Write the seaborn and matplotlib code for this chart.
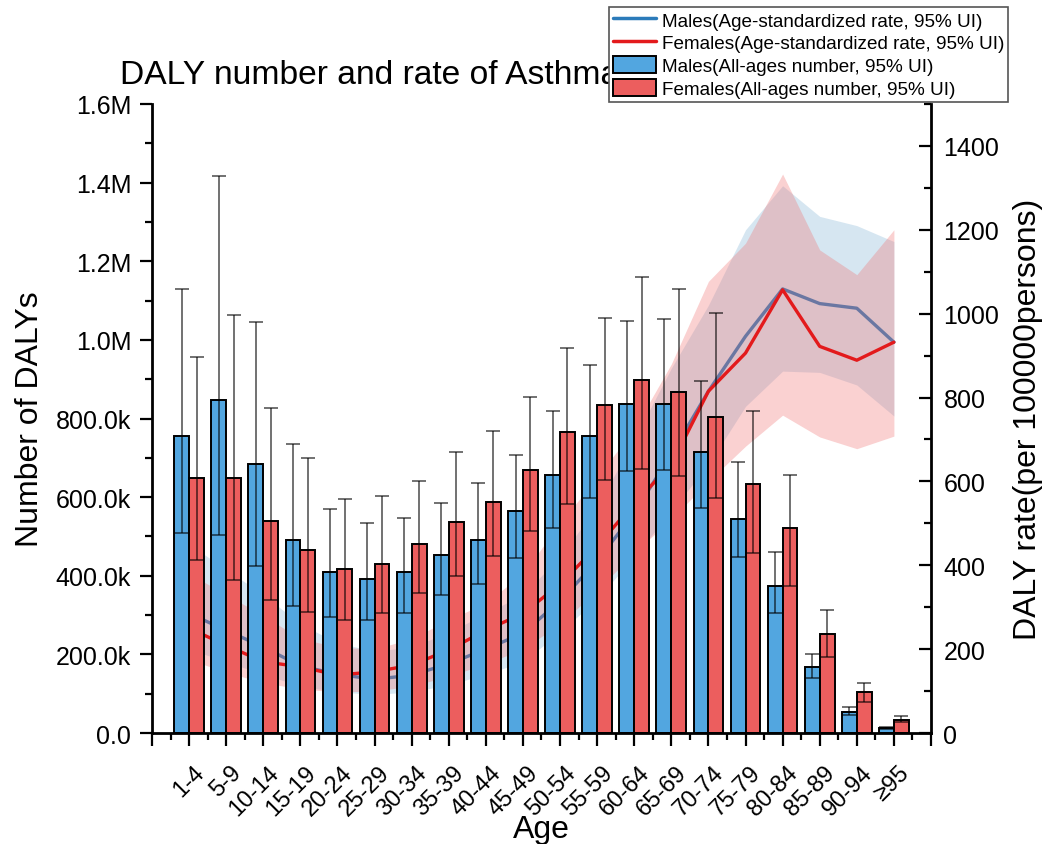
import numpy as np
import pandas as pd
import seaborn as sns
import matplotlib.pyplot as plt
import matplotlib.transforms as mtrans
from matplotlib.lines import Line2D
from matplotlib.patches import Patch
from matplotlib.ticker import FuncFormatter, MultipleLocator

# data (numbers in thousands, rates per 100000)
ages = ['1-4', '5-9', '10-14', '15-19', '20-24', '25-29', '30-34', '35-39', '40-44', '45-49',
        '50-54', '55-59', '60-64', '65-69', '70-74', '75-79', '80-84', '85-89', '90-94', '≥95']

male_num = [756, 848, 683, 490, 410, 392, 409, 454, 490, 565, 656, 756, 838, 836, 714, 545, 375, 168, 54, 13]
male_lo = [509, 504, 426, 322, 294, 288, 304, 351, 379, 446, 522, 599, 666, 668, 573, 447, 305, 141, 45, 10]
male_hi = [1130, 1417, 1046, 735, 569, 535, 547, 584, 636, 707, 818, 937, 1047, 1052, 896, 689, 461, 202, 65, 16]

female_num = [649, 648, 538, 466, 417, 429, 480, 536, 587, 669, 765, 835, 898, 867, 805, 634, 522, 252, 104, 34]
female_lo = [441, 388, 338, 309, 287, 304, 355, 399, 449, 513, 583, 643, 672, 655, 598, 457, 374, 193, 80, 27]
female_hi = [957, 1064, 826, 700, 594, 602, 642, 714, 768, 854, 980, 1056, 1161, 1130, 1069, 818, 657, 314, 127, 44]

male_rate = [285, 245, 205, 160, 140, 128, 138, 165, 200, 238, 315, 410, 525, 665, 815, 946, 1059, 1024, 1013, 932]
male_rate_lo = [200, 170, 140, 112, 98, 92, 98, 115, 140, 170, 240, 320, 420, 530, 640, 779, 863, 860, 830, 756]
male_rate_hi = [450, 390, 330, 260, 215, 195, 205, 240, 285, 330, 420, 540, 700, 870, 1020, 1200, 1305, 1232, 1210, 1172]

female_rate = [250, 209, 170, 158, 138, 146, 162, 198, 245, 285, 355, 445, 548, 640, 815, 906, 1057, 922, 889, 932]
female_rate_lo = [175, 145, 120, 105, 98, 100, 112, 135, 165, 200, 260, 340, 430, 510, 600, 684, 758, 706, 678, 708]
female_rate_hi = [380, 330, 280, 225, 205, 200, 225, 270, 310, 380, 500, 610, 725, 880, 1077, 1168, 1333, 1152, 1093, 1200]

blue = '#52a6e0'
red = '#ec5e5e'
line_blue = '#2b7bba'
line_red = '#e31a1c'

sns.set_style('ticks')
plt.rcParams['font.family'] = ['Liberation Sans', 'DejaVu Sans']
plt.rcParams['text.color'] = 'black'
plt.rcParams['axes.labelcolor'] = 'black'
plt.rcParams['xtick.color'] = 'black'
plt.rcParams['ytick.color'] = 'black'

df = pd.DataFrame({
    'age': ages * 2,
    'number': np.array(male_num + female_num) * 1000,
    'sex': ['Males'] * len(ages) + ['Females'] * len(ages),
})

fig = plt.figure(figsize=(10.5, 8.45), dpi=100)
ax = fig.add_axes([0.14476, 0.13136, 0.74190, 0.74438])
ax2 = ax.twinx()

# bars with 95% UI
sns.barplot(data=df, x='age', y='number', hue='sex', palette={'Males': blue, 'Females': red},
            edgecolor='black', linewidth=1.4, errorbar=None, saturation=1, legend=False, ax=ax)

for cont, mid, lo, hi in [(ax.containers[0], male_num, male_lo, male_hi),
                          (ax.containers[1], female_num, female_lo, female_hi)]:
    xs = [b.get_x() + b.get_width() / 2 for b in cont]
    mid = np.array(mid) * 1000
    err = [mid - np.array(lo) * 1000, np.array(hi) * 1000 - mid]
    ax.errorbar(xs, mid, yerr=err, fmt='none', ecolor='black', alpha=0.6,
                elinewidth=1.3, capsize=5, capthick=1.3)

# rate lines with UI bands
pos = np.arange(len(ages))
ax2.fill_between(pos, male_rate_lo, male_rate_hi, color='#1f77b4', alpha=0.18, lw=0, zorder=1)
sns.lineplot(x=pos, y=male_rate, color=line_blue, lw=2.4, ax=ax2, zorder=2)
ax2.fill_between(pos, female_rate_lo, female_rate_hi, color='#f07070', alpha=0.32, lw=0, zorder=3)
sns.lineplot(x=pos, y=female_rate, color=line_red, lw=2.4, ax=ax2, zorder=4)

# bars above the lines
ax.set_zorder(ax2.get_zorder() + 1)
ax.patch.set_visible(False)

# axes
ax.set_xlim(-1, 20)
ax.set_ylim(0, 1.6e6)
ax2.set_ylim(0, 1500)


def num_fmt(v, pos):
    if v == 0:
        return '0.0'
    if v >= 1e6:
        return f'{v / 1e6:.1f}M'
    return f'{v / 1e3:.1f}k'


ax.yaxis.set_major_locator(MultipleLocator(200000))
ax.yaxis.set_minor_locator(MultipleLocator(100000))
ax.yaxis.set_major_formatter(FuncFormatter(num_fmt))
ax2.yaxis.set_major_locator(MultipleLocator(200))
ax2.yaxis.set_minor_locator(MultipleLocator(100))

ax.set_xticks(range(-1, 21))
ax.set_xticklabels([''] + ages + [''], rotation=45, ha='right', va='center', rotation_mode='anchor')
ax.set_xticks(np.arange(-0.5, 20, 1), minor=True)

ax.tick_params(axis='x', which='major', length=9, width=1.6, labelsize=17, pad=17, direction='out')
ax.tick_params(axis='x', which='minor', length=5, width=1.6, direction='out')
ax.tick_params(axis='y', which='major', length=9, width=1.6, labelsize=18, pad=6, direction='out')
ax.tick_params(axis='y', which='minor', length=5, width=1.6, direction='out')
ax2.tick_params(axis='y', which='major', length=9, width=1.6, labelsize=18, pad=9, direction='in')
ax2.tick_params(axis='y', which='minor', length=5, width=1.6, direction='in')

shift = mtrans.ScaledTranslation(0.12, 0, fig.dpi_scale_trans)
for lab in ax.get_xticklabels():
    lab.set_transform(lab.get_transform() + shift)

for s in ['top', 'right']:
    ax.spines[s].set_visible(False)
for s in ['top', 'left', 'bottom']:
    ax2.spines[s].set_visible(False)
for s in ['left', 'bottom']:
    ax.spines[s].set_linewidth(2)
    ax.spines[s].set_color('black')
ax2.spines['right'].set_linewidth(2)
ax2.spines['right'].set_color('black')

ax.set_xlabel('Age', fontsize=23, labelpad=-4)
ax.set_ylabel('Number of DALYs', fontsize=23, labelpad=8)
ax2.set_ylabel('DALY rate(per 100000persons)', fontsize=23, labelpad=10)

fig.text(120 / 1050, 1 - 76 / 845, 'DALY number and rate of Asthma', fontsize=24.2, va='center', ha='left')

handles = [
    Line2D([], [], color=line_blue, lw=2.5),
    Line2D([], [], color=line_red, lw=2.5),
    Patch(facecolor=blue, edgecolor='black', lw=1.4),
    Patch(facecolor=red, edgecolor='black', lw=1.4),
]
labels = ['Males(Age-standardized rate, 95% UI)', 'Females(Age-standardized rate, 95% UI)',
          'Males(All-ages number, 95% UI)', 'Females(All-ages number, 95% UI)']
leg = fig.legend(handles, labels, loc='upper right', bbox_to_anchor=(1008 / 1050, 1 - 8 / 845),
                 fontsize=13.6, frameon=True, fancybox=False, edgecolor='#555555', framealpha=1,
                 borderpad=0.2, labelspacing=0.2, handlelength=2.3, handleheight=1.0,
                 handletextpad=0.3, borderaxespad=0)
leg.get_frame().set_linewidth(1.2)

fig.savefig('out.png', dpi=100)
